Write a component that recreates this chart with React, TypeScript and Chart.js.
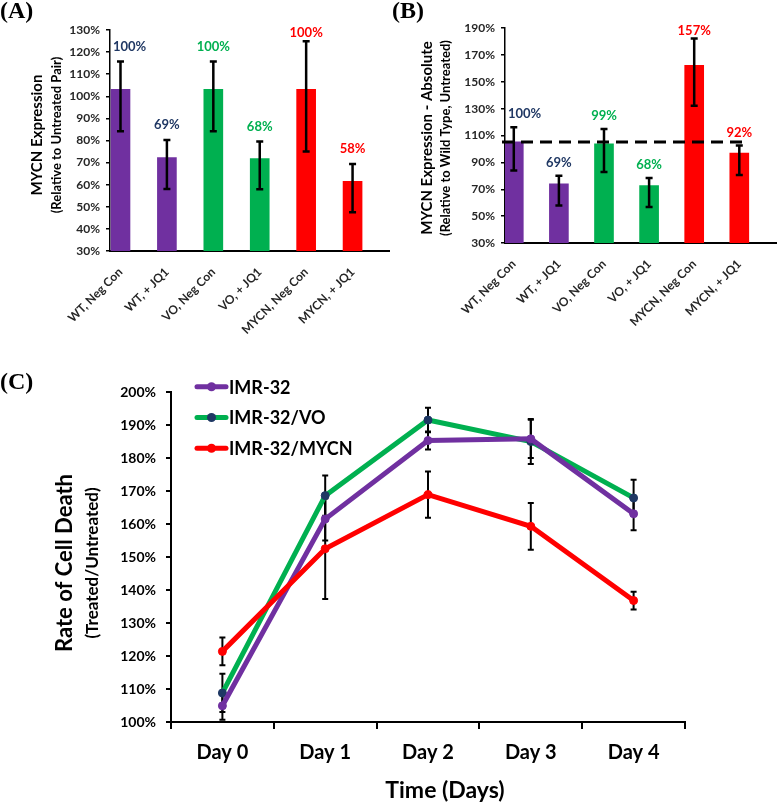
import React, { useEffect, useRef } from "react";
import { Chart, registerables } from "chart.js";

Chart.register(...registerables);

// ---------- DATA ----------
const categories = ["WT, Neg Con", "WT, + JQ1", "VO, Neg Con", "VO, + JQ1", "MYCN, Neg Con", "MYCN, + JQ1"];
const barColors = ["#7030A0", "#7030A0", "#00B050", "#00B050", "#FF0000", "#FF0000"];
const labelColors = ["#203864", "#203864", "#00B050", "#00B050", "#FF0000", "#FF0000"];

// Panel A: relative to untreated pair
const relValues = [103.2, 72.3, 103.2, 71.8, 103.2, 61.5];
const relErrHigh = [115.8, 80.2, 115.8, 79.5, 124.9, 69.4];
const relErrLow = [84.2, 58.0, 84.2, 57.9, 75.0, 47.5];
const relLabels = ["100%", "69%", "100%", "68%", "100%", "58%"];

// Panel B: absolute, relative to wild type untreated
const absValues = [105.3, 74.1, 103.8, 72.8, 162.3, 96.9];
const absErrHigh = [116.2, 80.0, 114.8, 78.3, 182.1, 102.6];
const absErrLow = [84.0, 58.0, 82.8, 56.8, 132.1, 80.6];
const absLabels = ["100%", "69%", "99%", "68%", "157%", "92%"];
const absReference = 105.1;

// Panel C: rate of cell death
const days = ["Day 0", "Day 1", "Day 2", "Day 3", "Day 4"];
const seriesNames = ["IMR-32", "IMR-32/VO", "IMR-32/MYCN"];
const imr32 = [104.9, 161.5, 185.3, 185.8, 163.1];
const imr32Err = [4.2, 6.5, 2.7, 5.8, 5.0];
const imr32vo = [108.8, 168.6, 191.5, 185.0, 167.9];
const imr32voErr = [5.8, 6.1, 3.7, 6.8, 5.5];
const imr32mycn = [121.4, 152.5, 168.9, 159.3, 136.8];
const imr32mycnErr = [4.2, 15.2, 7.0, 7.1, 2.7];

// ---------- STYLE ----------
const FONT = "Lato, 'Open Sans', 'DejaVu Sans', sans-serif";

function rotatedText(ctx: CanvasRenderingContext2D, text: string, x: number, y: number, font: string, color: string) {
  ctx.save();
  ctx.translate(x, y);
  ctx.rotate(-Math.PI / 2);
  ctx.font = font;
  ctx.fillStyle = color;
  ctx.textAlign = "center";
  ctx.textBaseline = "middle";
  ctx.fillText(text, 0, 0);
  ctx.restore();
}

type BarPanel = {
  values: number[];
  errHigh: number[];
  errLow: number[];
  labels: string[];
  yMin: number;
  yMax: number;
  yStep: number;
  xMin: number;
  xMax: number;
  padTop: number;
  padRight: number;
  yWidth: number;
  xHeight: number;
  title1: string;
  title2: string;
  title1X: number;
  title2X: number;
  titleY: number;
  labelGap: number;
  reference?: number;
};

function BarChartPanel({ p, width, height, style }: { p: BarPanel; width: number; height: number; style: React.CSSProperties }) {
  const ref = useRef<HTMLCanvasElement>(null);
  useEffect(() => {
    const canvas = ref.current!;
    const plugin = {
      id: "barExtras",
      afterDatasetsDraw(chart: any) {
        const ctx = chart.ctx as CanvasRenderingContext2D;
        const ys = chart.scales.y;
        const area = chart.chartArea;
        const meta = chart.getDatasetMeta(0);
        if (p.reference !== undefined) {
          const yy = ys.getPixelForValue(p.reference);
          const lastX = meta.data[meta.data.length - 1].x;
          ctx.save();
          ctx.strokeStyle = "#000";
          ctx.lineWidth = 3;
          ctx.setLineDash([12, 7]);
          ctx.beginPath();
          ctx.moveTo(area.left - 3, yy);
          ctx.lineTo(lastX + 4, yy);
          ctx.stroke();
          ctx.restore();
        }
        ctx.save();
        ctx.strokeStyle = "#000";
        ctx.lineWidth = 2.5;
        meta.data.forEach((bar: any, i: number) => {
          const x = bar.x;
          const yh = ys.getPixelForValue(p.errHigh[i]);
          const yl = ys.getPixelForValue(p.errLow[i]);
          ctx.beginPath();
          ctx.moveTo(x, yh);
          ctx.lineTo(x, yl);
          ctx.moveTo(x - 3.5, yh);
          ctx.lineTo(x + 3.5, yh);
          ctx.moveTo(x - 3.5, yl);
          ctx.lineTo(x + 3.5, yl);
          ctx.stroke();
        });
        ctx.restore();
        ctx.save();
        ctx.font = `bold 13px ${FONT}`;
        ctx.textAlign = "center";
        ctx.textBaseline = "middle";
        meta.data.forEach((bar: any, i: number) => {
          const w = ctx.measureText(p.labels[i]).width;
          let x = bar.x;
          if (x - w / 2 < area.left + 3) x = area.left + 3 + w / 2;
          let y = ys.getPixelForValue(p.errHigh[i]) - p.labelGap;
          if (y < area.top + 3) y = area.top + 3;
          ctx.fillStyle = labelColors[i];
          ctx.fillText(p.labels[i], x, y);
        });
        ctx.restore();
      },
      afterDraw(chart: any) {
        const ctx = chart.ctx as CanvasRenderingContext2D;
        rotatedText(ctx, p.title1, p.title1X, p.titleY, `bold 15px ${FONT}`, "#000");
        rotatedText(ctx, p.title2, p.title2X, p.titleY, `bold 13px ${FONT}`, "#000");
      },
    };
    const chart = new Chart(canvas, {
      type: "bar",
      data: {
        datasets: [
          {
            data: p.values.map((v, i) => ({ x: i, y: v })),
            backgroundColor: barColors,
            borderWidth: 0,
            barThickness: 19,
          } as any,
        ],
      },
      options: {
        animation: false,
        responsive: false,
        events: [],
        layout: { padding: { top: p.padTop, right: p.padRight, left: 0, bottom: 0 } },
        plugins: { legend: { display: false }, tooltip: { enabled: false } },
        scales: {
          x: {
            type: "linear",
            min: p.xMin,
            max: p.xMax,
            offset: false,
            afterBuildTicks: (s: any) => {
              s.ticks = categories.map((_, i) => ({ value: i }));
            },
            afterFit: (s: any) => {
              s.height = p.xHeight;
            },
            grid: { display: false },
            border: { display: true, color: "#000", width: 2 },
            ticks: {
              autoSkip: false,
              minRotation: 45,
              maxRotation: 45,
              padding: 6,
              color: "#262626",
              font: { family: FONT, size: 12, weight: "bold" },
              callback: (v: any) => categories[Math.round(Number(v))] ?? "",
            },
          } as any,
          y: {
            min: p.yMin,
            max: p.yMax,
            afterFit: (s: any) => {
              s.width = p.yWidth;
            },
            ticks: {
              stepSize: p.yStep,
              padding: 6,
              color: "#262626",
              font: { family: FONT, size: 12, weight: "bold" },
              callback: (v: any) => `${v}%`,
            },
            grid: { drawOnChartArea: false, drawTicks: true, tickLength: 4, color: "#000", lineWidth: 1.5 },
            border: { display: true, color: "#000", width: 1.5 },
          } as any,
        },
      },
      plugins: [plugin],
    });
    return () => chart.destroy();
  }, [p]);
  return <canvas ref={ref} width={width} height={height} style={{ position: "absolute", width, height, ...style }} />;
}

const panelA: BarPanel = {
  values: relValues,
  errHigh: relErrHigh,
  errLow: relErrLow,
  labels: relLabels,
  yMin: 30,
  yMax: 130,
  yStep: 10,
  xMin: -0.226,
  xMax: 5.785,
  padTop: 30,
  padRight: 1,
  yWidth: 110,
  xHeight: 84,
  title1: "MYCN Expression",
  title2: "(Relative to Untreated Pair)",
  title1X: 37,
  title2X: 57,
  titleY: 135,
  labelGap: 15,
};

const panelB: BarPanel = {
  values: absValues,
  errHigh: absErrHigh,
  errLow: absErrLow,
  labels: absLabels,
  yMin: 30,
  yMax: 190,
  yStep: 20,
  xMin: -0.195,
  xMax: 5.836,
  padTop: 28,
  padRight: 0,
  yWidth: 115,
  xHeight: 92,
  title1: "MYCN Expression - Absolute",
  title2: "(Relative to Wild Type, Untreated)",
  title1X: 37,
  title2X: 56,
  titleY: 138,
  labelGap: 13,
  reference: absReference,
};

function LineChartPanel({ width, height, style }: { width: number; height: number; style: React.CSSProperties }) {
  const ref = useRef<HTMLCanvasElement>(null);
  useEffect(() => {
    const canvas = ref.current!;
    const errs = [imr32Err, imr32voErr, imr32mycnErr];
    const lineColors = ["#7030A0", "#00B050", "#FF0000"];
    const pointColors = ["#7030A0", "#1F3864", "#FF0000"];
    const plugin = {
      id: "lineExtras",
      beforeDatasetsDraw(chart: any) {
        const ctx = chart.ctx as CanvasRenderingContext2D;
        const ys = chart.scales.y;
        ctx.save();
        ctx.strokeStyle = "#000";
        ctx.lineWidth = 2;
        chart.data.datasets.forEach((ds: any, di: number) => {
          const meta = chart.getDatasetMeta(di);
          meta.data.forEach((pt: any, i: number) => {
            const v = ds.data[i];
            const yh = ys.getPixelForValue(v + errs[di][i]);
            const yl = ys.getPixelForValue(v - errs[di][i]);
            ctx.beginPath();
            ctx.moveTo(pt.x, yh);
            ctx.lineTo(pt.x, yl);
            ctx.moveTo(pt.x - 3, yh);
            ctx.lineTo(pt.x + 3, yh);
            ctx.moveTo(pt.x - 3, yl);
            ctx.lineTo(pt.x + 3, yl);
            ctx.stroke();
          });
        });
        ctx.restore();
      },
      afterDraw(chart: any) {
        const ctx = chart.ctx as CanvasRenderingContext2D;
        seriesNames.forEach((name, i) => {
          const y = 16.7 + i * 30.8;
          ctx.save();
          ctx.strokeStyle = lineColors[i];
          ctx.lineWidth = 5;
          ctx.lineCap = "round";
          ctx.beginPath();
          ctx.moveTo(197, y);
          ctx.lineTo(226, y);
          ctx.stroke();
          ctx.fillStyle = pointColors[i];
          ctx.beginPath();
          ctx.arc(211.5, y, 4.5, 0, Math.PI * 2);
          ctx.fill();
          ctx.font = `bold 18px ${FONT}`;
          ctx.fillStyle = "#000";
          ctx.textAlign = "left";
          ctx.textBaseline = "middle";
          ctx.fillText(name, 229, y + 1);
          ctx.restore();
        });
        rotatedText(ctx, "Rate of Cell Death", 65, 193, `bold 22px ${FONT}`, "#000");
        rotatedText(ctx, "(Treated/Untreated)", 93, 193, `bold 17px ${FONT}`, "#000");
        ctx.save();
        ctx.font = `bold 23px ${FONT}`;
        ctx.fillStyle = "#000";
        ctx.textAlign = "center";
        ctx.textBaseline = "middle";
        ctx.fillText("Time (Days)", 445, 421);
        ctx.restore();
      },
    };
    const mk = (label: string, data: number[], i: number, order: number) => ({
      label,
      data,
      borderColor: lineColors[i],
      backgroundColor: lineColors[i],
      pointBackgroundColor: pointColors[i],
      pointBorderColor: pointColors[i],
      borderWidth: 5,
      pointRadius: 4,
      pointBorderWidth: 1,
      tension: 0,
      order,
    });
    const chart = new Chart(canvas, {
      type: "line",
      data: {
        labels: days,
        datasets: [
          mk(seriesNames[0], imr32, 0, 1),
          mk(seriesNames[1], imr32vo, 1, 2),
          mk(seriesNames[2], imr32mycn, 2, 0),
        ],
      },
      options: {
        animation: false,
        responsive: false,
        events: [],
        layout: { padding: { top: 22, right: 92, left: 0, bottom: 0 } },
        plugins: { legend: { display: false }, tooltip: { enabled: false } },
        scales: {
          x: {
            type: "category",
            offset: true,
            afterFit: (s: any) => {
              s.height = 81;
            },
            grid: { offset: true, drawOnChartArea: false, drawTicks: true, tickLength: 7, color: "#000", lineWidth: 2 },
            border: { display: true, color: "#000", width: 2 },
            ticks: { padding: 12, color: "#000", font: { family: FONT, size: 20, weight: "bold" } },
          } as any,
          y: {
            min: 100,
            max: 200,
            afterFit: (s: any) => {
              s.width = 171;
            },
            ticks: {
              stepSize: 10,
              padding: 10,
              color: "#000",
              font: { family: FONT, size: 14, weight: "bold" },
              callback: (v: any) => `${v}%`,
            },
            grid: { drawOnChartArea: false, drawTicks: true, tickLength: 5, color: "#000", lineWidth: 2 },
            border: { display: true, color: "#000", width: 2 },
          } as any,
        },
      },
      plugins: [plugin],
    });
    return () => chart.destroy();
  }, []);
  return <canvas ref={ref} width={width} height={height} style={{ position: "absolute", width, height, ...style }} />;
}

const panelLabel: React.CSSProperties = {
  position: "absolute",
  font: "bold 24px 'Liberation Serif', 'Times New Roman', serif",
  lineHeight: "24px",
  color: "#000",
  whiteSpace: "nowrap",
};

export default function App() {
  return (
    <div style={{ position: "absolute", left: 0, top: 0, width: 777, height: 803, background: "#fff", overflow: "hidden" }}>
      <BarChartPanel p={panelA} width={390} height={335} style={{ left: 0, top: 0 }} />
      <BarChartPanel p={panelB} width={387} height={335} style={{ left: 390, top: 0 }} />
      <LineChartPanel width={777} height={433} style={{ left: 0, top: 370 }} />
      <div style={{ ...panelLabel, left: 0, top: -2 }}>(A)</div>
      <div style={{ ...panelLabel, left: 392, top: -2 }}>(B)</div>
      <div style={{ ...panelLabel, left: 0, top: 369 }}>(C)</div>
    </div>
  );
}
